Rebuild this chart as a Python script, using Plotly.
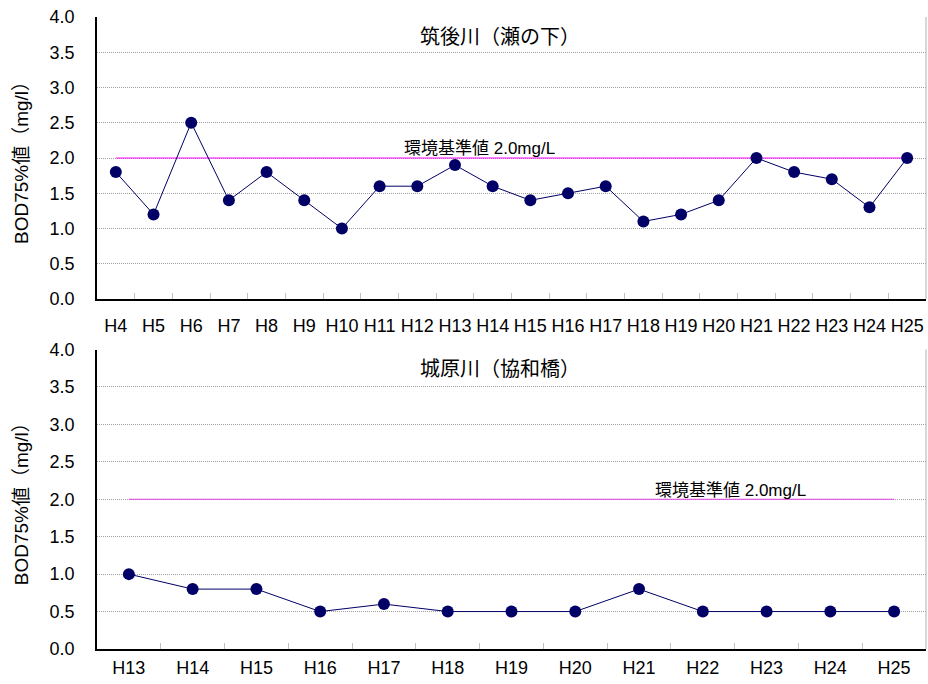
import plotly.graph_objects as go

# BOD 75% values by fiscal year
years_top = ["H4", "H5", "H6", "H7", "H8", "H9", "H10", "H11", "H12", "H13", "H14",
             "H15", "H16", "H17", "H18", "H19", "H20", "H21", "H22", "H23", "H24", "H25"]
bod_top = [1.8, 1.2, 2.5, 1.4, 1.8, 1.4, 1.0, 1.6, 1.6, 1.9, 1.6,
           1.4, 1.5, 1.6, 1.1, 1.2, 1.4, 2.0, 1.8, 1.7, 1.3, 2.0]

years_bottom = ["H13", "H14", "H15", "H16", "H17", "H18", "H19",
                "H20", "H21", "H22", "H23", "H24", "H25"]
bod_bottom = [1.0, 0.8, 0.8, 0.5, 0.6, 0.5, 0.5, 0.5, 0.8, 0.5, 0.5, 0.5, 0.5]

standard_value = 2.0
title_top = "筑後川（瀬の下）"
title_bottom = "城原川（協和橋）"
standard_label = "環境基準値 2.0mg/L"
y_title = "BOD75%値（mg/l）"

W, H = 928, 684
PLOT_L, PLOT_R = 97, 926
TOP_Y0, TOP_Y1 = 17, 299
BOT_Y0, BOT_Y1 = 349.5, 649

LATIN = "Liberation Sans, Arial, sans-serif"
MIXED = "Liberation Sans, Noto Sans CJK JP, sans-serif"
NAVY = "#000066"

fig = go.Figure()

panels = [
    ("x", "y", years_top, bod_top, "#FF00FF"),
    ("x2", "y2", years_bottom, bod_bottom, "#E040E0"),
]
for xa, ya, cats, vals, std_color in panels:
    fig.add_trace(go.Scatter(
        x=cats, y=[standard_value] * len(cats), xaxis=xa, yaxis=ya,
        mode="lines", line=dict(color=std_color, width=1), hoverinfo="skip",
        showlegend=False))
    fig.add_trace(go.Scatter(
        x=cats, y=vals, xaxis=xa, yaxis=ya, mode="lines+markers",
        line=dict(color=NAVY, width=1),
        marker=dict(color=NAVY, size=12), showlegend=False))


def ydom(y0, y1):
    return [1 - y1 / H, 1 - y0 / H]


xdom = [PLOT_L / W, PLOT_R / W]
common_x = dict(
    type="category", domain=xdom, showline=True, linecolor="black", linewidth=1.5,
    ticks="inside", tickson="boundaries", ticklen=6, tickcolor="#c0c0c0",
    tickwidth=1, showgrid=False, zeroline=False, tickangle=0, automargin=False,
    tickfont=dict(family=LATIN, size=18, color="black"), fixedrange=True)
common_y = dict(
    range=[0, 4], dtick=0.5, tickformat=".1f", showline=True, linecolor="black",
    linewidth=1.5, ticks="", showgrid=True, gridcolor="#a0a0a0", griddash="1px,1px",
    gridwidth=1, zeroline=False, automargin=False, ticklabelstandoff=17,
    tickfont=dict(family=LATIN, size=18, color="black"),
    title=dict(text=y_title, font=dict(family=MIXED, size=19, color="black"), standoff=16),
    fixedrange=True)

fig.update_layout(
    width=W, height=H, margin=dict(l=0, r=0, t=0, b=0),
    paper_bgcolor="white", plot_bgcolor="white",
    xaxis=dict(common_x, anchor="y", range=[-0.5, len(years_top) - 0.5],
               ticklabelstandoff=10),
    yaxis=dict(common_y, domain=ydom(TOP_Y0, TOP_Y1), anchor="x"),
    xaxis2=dict(common_x, anchor="y2", range=[-0.5, len(years_bottom) - 0.5],
                ticklabelstandoff=2),
    yaxis2=dict(common_y, domain=ydom(BOT_Y0, BOT_Y1), anchor="x2"),
)

# light right-hand border of each plot area
for xr, yr in (("x domain", "y domain"), ("x2 domain", "y2 domain")):
    fig.add_shape(type="line", xref=xr, yref=yr, x0=1, x1=1, y0=0, y1=1,
                  line=dict(color="#b0b0b0", width=1))

annots = [
    dict(text=title_top, xref="x domain", yref="y domain", x=0.486, y=0.93, size=20),
    dict(text=title_bottom, xref="x2 domain", yref="y2 domain", x=0.486, y=0.935, size=20),
    dict(text=standard_label, xref="x domain", yref="y domain", x=0.462, y=0.535, size=17),
    dict(text=standard_label, xref="x2 domain", yref="y2 domain", x=0.764, y=0.53, size=17),
]
for a in annots:
    fig.add_annotation(text=a["text"], xref=a["xref"], yref=a["yref"], x=a["x"], y=a["y"],
                       showarrow=False, xanchor="center", yanchor="middle",
                       font=dict(family=MIXED, size=a["size"], color="black"))

fig.write_html("out.html")
